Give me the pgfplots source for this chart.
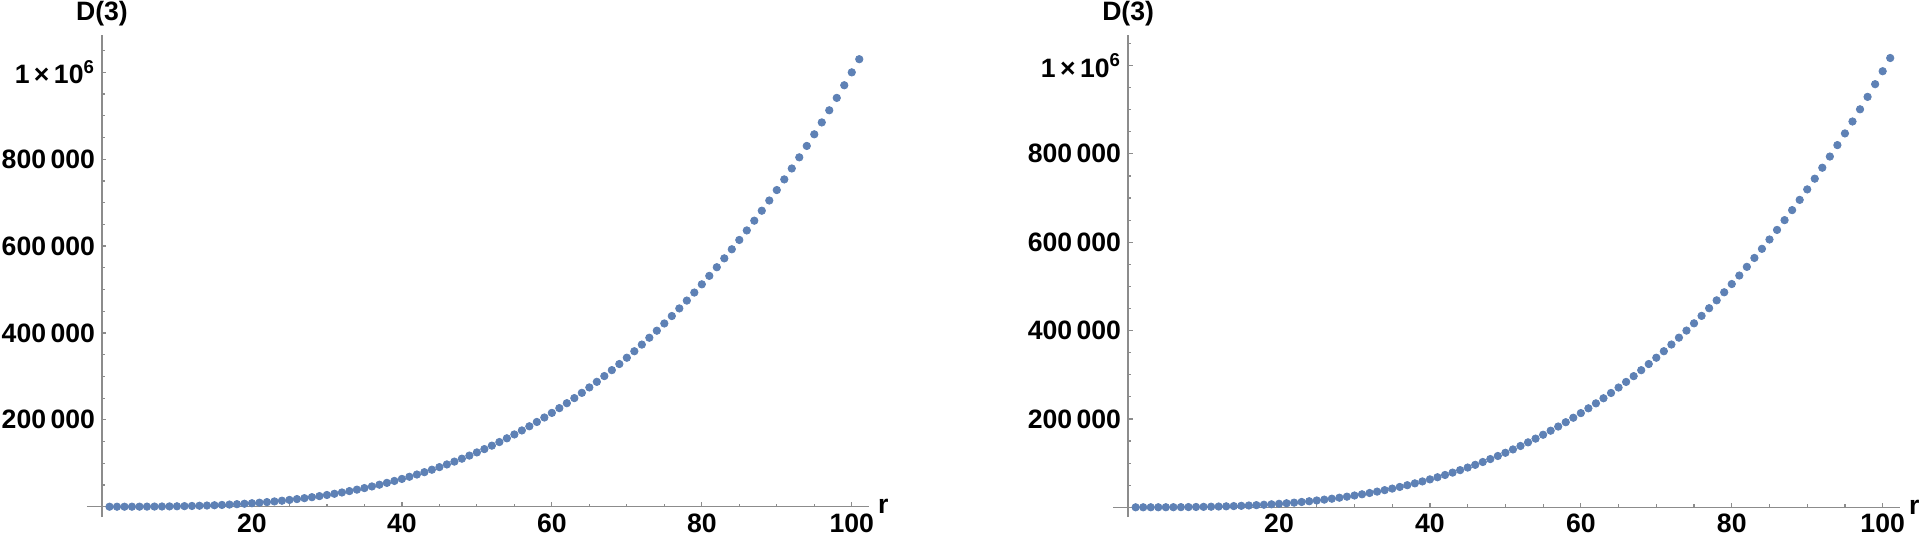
\documentclass[border=0pt]{standalone}
\usepackage{pgfplots}
\usepackage{pgfplotstable}
\pgfplotsset{compat=1.18}
\usepackage{fontspec}
\setmainfont{Liberation Sans}

\definecolor{mmablue}{rgb}{0.368,0.507,0.71}
\definecolor{axgray}{gray}{0.55}

% left panel: D(3) against r
\pgfplotstableread[row sep=\\]{
r d \\
1 1\\ 2 8\\ 3 27\\ 4 64\\ 5 125\\ 6 216\\ 7 343\\ 8 512\\ 9 729\\ 10 1000\\
11 1331\\ 12 1728\\ 13 2197\\ 14 2744\\ 15 3375\\ 16 4096\\ 17 4913\\ 18 5832\\ 19 6859\\ 20 8000\\
21 9261\\ 22 10648\\ 23 12167\\ 24 13824\\ 25 15625\\ 26 17576\\ 27 19683\\ 28 21952\\ 29 24389\\ 30 27000\\
31 29791\\ 32 32768\\ 33 35937\\ 34 39304\\ 35 42875\\ 36 46656\\ 37 50653\\ 38 54872\\ 39 59319\\ 40 64000\\
41 68921\\ 42 74088\\ 43 79507\\ 44 85184\\ 45 91125\\ 46 97336\\ 47 103823\\ 48 110592\\ 49 117649\\ 50 125000\\
51 132651\\ 52 140608\\ 53 148877\\ 54 157464\\ 55 166375\\ 56 175616\\ 57 185193\\ 58 195112\\ 59 205379\\ 60 216000\\
61 226981\\ 62 238328\\ 63 250047\\ 64 262144\\ 65 274625\\ 66 287496\\ 67 300763\\ 68 314432\\ 69 328509\\ 70 343000\\
71 357911\\ 72 373248\\ 73 389017\\ 74 405224\\ 75 421875\\ 76 438976\\ 77 456533\\ 78 474552\\ 79 493039\\ 80 512000\\
81 531441\\ 82 551368\\ 83 571787\\ 84 592704\\ 85 614125\\ 86 636056\\ 87 658503\\ 88 681472\\ 89 704969\\ 90 729000\\
91 753571\\ 92 778688\\ 93 804357\\ 94 830584\\ 95 857375\\ 96 884736\\ 97 912673\\ 98 941192\\ 99 970299\\ 100 1000000\\
101 1030301\\
}\leftdata

% right panel: same shape, a little lower at the top
\pgfplotstableread[row sep=\\]{
r d \\
1 1\\ 2 8\\ 3 27\\ 4 63\\ 5 123\\ 6 213\\ 7 339\\ 8 505\\ 9 720\\ 10 987\\
11 1314\\ 12 1706\\ 13 2168\\ 14 2708\\ 15 3331\\ 16 4043\\ 17 4849\\ 18 5756\\ 19 6770\\ 20 7896\\
21 9141\\ 22 10510\\ 23 12009\\ 24 13644\\ 25 15422\\ 26 17348\\ 27 19427\\ 28 21667\\ 29 24072\\ 30 26649\\
31 29404\\ 32 32342\\ 33 35470\\ 34 38793\\ 35 42318\\ 36 46049\\ 37 49994\\ 38 54159\\ 39 58548\\ 40 63168\\
41 68025\\ 42 73125\\ 43 78473\\ 44 84077\\ 45 89940\\ 46 96071\\ 47 102473\\ 48 109154\\ 49 116120\\ 50 123375\\
51 130927\\ 52 138780\\ 53 146942\\ 54 155417\\ 55 164212\\ 56 173333\\ 57 182785\\ 58 192576\\ 59 202709\\ 60 213192\\
61 224030\\ 62 235230\\ 63 246796\\ 64 258736\\ 65 271055\\ 66 283759\\ 67 296853\\ 68 310344\\ 69 324238\\ 70 338541\\
71 353258\\ 72 368396\\ 73 383960\\ 74 399956\\ 75 416391\\ 76 433269\\ 77 450598\\ 78 468383\\ 79 486629\\ 80 505344\\
81 524532\\ 82 544200\\ 83 564354\\ 84 584999\\ 85 606141\\ 86 627787\\ 87 649942\\ 88 672613\\ 89 695804\\ 90 719523\\
91 743775\\ 92 768565\\ 93 793900\\ 94 819786\\ 95 846229\\ 96 873234\\ 97 900808\\ 98 928956\\ 99 957685\\ 100 987000\\
101 1016907\\
}\rightdata

\pgfplotsset{
  dpanel/.style={
    axis lines=middle,
    axis line style={-,axgray,line width=0.75pt},
    scale only axis,
    height=241pt,
    xmin=-2, xmax=102.3,
    clip=false,
    xtick={0,20,40,60,80,100},
    xticklabels={,20,40,60,80,100},
    minor xtick={5,10,15,25,30,35,45,50,55,65,70,75,85,90,95},
    ytick={0,200000,400000,600000,800000,1000000},
    yticklabels={,200\,000,400\,000,600\,000,800\,000,1\,×\,10\textsuperscript{6}},
    minor ytick={50000,100000,150000,250000,300000,350000,450000,500000,550000,
      650000,700000,750000,850000,900000,950000,1050000},
    tick align=inside,
    major tick length=2.2pt,
    minor tick length=1.6pt,
    tick style={axgray,line width=0.6pt},
    ticklabel style={font=\bfseries\fontsize{13.3}{16}\selectfont},
    xlabel={r},
    ylabel={D(3)},
    every axis x label/.style={at={(current axis.right of origin)}, anchor=west,
      xshift=1pt, font=\bfseries\fontsize{13.3}{16}\selectfont},
    every axis y label/.style={at={(current axis.above origin)}, anchor=south,
      yshift=1pt, font=\bfseries\fontsize{13.3}{16}\selectfont},
    scaled ticks=false,
  },
}

\begin{document}
\begin{tikzpicture}
\useasboundingbox (0,0) rectangle (962.5pt,268pt);

\begin{axis}[dpanel,
  at={(43.5pt,9.5pt)}, anchor=south west,
  width=391pt,
  ymin=-23700, ymax=1086000]
\addplot[only marks, mark=*, mark size=1.85pt, color=mmablue] table[x=r,y=d] {\leftdata};
\end{axis}

\begin{axis}[dpanel,
  at={(556.5pt,9.5pt)}, anchor=south west,
  width=393.5pt,
  ymin=-22000, ymax=1069000]
\addplot[only marks, mark=*, mark size=1.85pt, color=mmablue] table[x=r,y=d] {\rightdata};
\end{axis}
\end{tikzpicture}
\end{document}
